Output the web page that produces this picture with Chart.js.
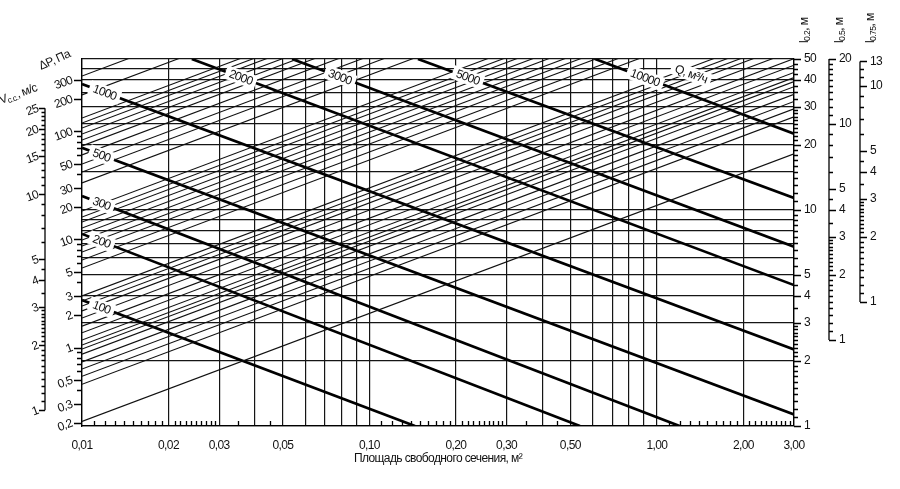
<!DOCTYPE html>
<html><head><meta charset="utf-8">
<script src="https://cdn.jsdelivr.net/npm/chart.js@4.4.1/dist/chart.umd.min.js"></script>
<style>html,body{margin:0;padding:0;background:#fff}canvas{display:block}</style>
</head><body>
<canvas id="c" width="900" height="489"></canvas>
<script>
// ===== DATA =====
// x axis: free section area, m2
const areaLabelValues = [0.01,0.02,0.03,0.05,0.1,0.2,0.3,0.5,1,2,3];
const areaLabelTexts  = ['0,01','0,02','0,03','0,05','0,10','0,20','0,30','0,50','1,00','2,00','3,00'];
const areaGrid = [0.01,0.02,0.03,0.04,0.05,0.06,0.07,0.08,0.09,0.1,0.2,0.3,0.4,0.5,0.6,0.7,0.8,0.9,1,2,3];
const areaMinor = [0.011,0.012,0.013,0.014,0.015,0.016,0.017,0.018,0.019,
  0.021,0.022,0.023,0.024,0.025,0.026,0.027,0.028,0.029,0.035,0.045,
  0.11,0.12,0.13,0.14,0.15,0.16,0.17,0.18,0.19,
  0.21,0.22,0.23,0.24,0.25,0.26,0.27,0.28,0.29,0.35,0.45,
  1.1,1.2,1.3,1.4,1.5,1.6,1.7,1.8,1.9,2.1,2.2,2.3,2.4,2.5,2.6,2.7,2.8,2.9];

// right axis l0.2 (main y)
const l02Labels = [1,2,3,4,5,10,20,30,40,50];
const l02Grid = [1,2,3,4,5,6,7,8,9,10,15,20,25,30,35,40,45,50];
const l02Minor = [1.1,1.2,1.3,1.4,1.5,1.6,1.7,1.8,1.9,2.1,2.2,2.3,2.4,2.5,2.6,2.7,2.8,2.9,
  3.5,4.5,5.5,6,6.5,7,7.5,8,8.5,9,9.5,11,12,13,14,15,16,17,18,19,
  21,22,23,24,25,26,27,28,29,32.5,35,37.5,42.5,45,47.5];
// l0.5 axis
const l05Labels = [1,2,3,4,5,10,20];
const l05Minor = [1.1,1.2,1.3,1.4,1.5,1.6,1.7,1.8,1.9,2.1,2.2,2.3,2.4,2.5,2.6,2.7,2.8,2.9,
  3.5,4.5,6,7,8,9,11,12,13,14,15,16,17,18,19];
// l0.75 axis
const l075Labels = [1,2,3,4,5,10,13];
const l075Minor = [1.1,1.2,1.3,1.4,1.5,1.6,1.7,1.8,1.9,2.1,2.2,2.3,2.4,2.5,2.6,2.7,2.8,2.9,
  3.5,4.5,6,7,8,9,11,12];
// left axis Vcc, m/s
const vccLabels = [1,2,3,4,5,10,15,20,25];
const vccMinor = [1.1,1.2,1.3,1.4,1.5,1.6,1.7,1.8,1.9,2.1,2.2,2.3,2.4,2.5,2.6,2.7,2.8,2.9,
  3.5,4.5,6,7,8,9,11,12,13,14,16,17,18,19,21,22,23,24];
// left axis dP, Pa
const dpLabels = [0.2,0.3,0.5,1,2,3,5,10,20,30,50,100,200,300];
const dpLabelTexts = ['0,2','0,3','0,5','1','2','3','5','10','20','30','50','100','200','300'];
const dpMinor = [0.4,0.6,0.7,0.8,0.9,4,6,7,8,9,40,60,70,80,90];

// thick lines: air flow Q, m3/h (endpoints in area / l0.2)
const qValues  = [100,200,300,500,1000,2000,3000,5000,10000];
const qStartA  = [0.01,0.01,0.01,0.01,0.01,0.0241,0.0538,0.1475,0.6095];
const qStartL  = [3.83,7.75,11.6,19.4,38.3,50,50,50,50];
const qEndA    = [0.144,0.54,1.2,3,3,3,3,3,3];
const qEndL    = [1,1,1,1.13,2.26,4.49,6.76,11.36,22.55];
const qLabelA  = [0.0117,0.0117,0.0117,0.0117,0.0120,0.0357,0.079,0.22,0.91];
const qLabelL  = [3.54,7.15,10.7,17.9,35.0,41.1,41.3,41.1,40.9];
const qUnitA = 1.315, qUnitL = 42.6;

// thin lines: l0.2 at area 0.01 (left) and at area 3.00 (right)
const thinStartL = [41.7,34.1,
  26.66,25.27,23.97,22.48,21.09,19.79,17.98,16.33,14.99,13.34,
  9.89,9.28,8.80,8.25,7.74,7.26,6.81,6.39,5.87,5.39,
  4.00,3.79,3.59,3.41,3.16,2.90,2.70,2.50,2.37,2.27,2.15,1.98,1.835,1.70,1.56,1.05];
const thinEndL = [722,590,
  461.8,437.7,415.2,389.4,365.3,342.8,311.4,282.8,259.6,231.1,
  171.3,160.7,152.4,142.9,134.1,125.7,118.0,110.7,101.7,93.4,
  69.3,65.6,62.2,59.1,54.7,50.2,46.8,43.3,41.0,39.3,37.2,34.3,31.8,29.4,27.0,18.2];

// ===== FONT =====
function hasFont(name){
  const c=document.createElement('canvas').getContext('2d');
  const t='Площадь 0,01 abcdefghij 12345';
  c.font='40px monospace'; const a=c.measureText(t).width;
  c.font='40px "'+name+'", monospace'; const b=c.measureText(t).width;
  c.font='40px serif'; const a2=c.measureText(t).width;
  c.font='40px "'+name+'", serif'; const b2=c.measureText(t).width;
  return a!==b || a2!==b2;
}
let FAMILY='"Liberation Sans", Arial, sans-serif', FS=12, LS='-0.6px';
if (hasFont('Liberation Sans Narrow')) { FAMILY='"Liberation Sans Narrow"'; FS=12.5; LS='0px'; }
else if (hasFont('Arial Narrow')) { FAMILY='"Arial Narrow"'; FS=12.5; LS='0px'; }
const font = {family: FAMILY, size: FS};
const TXT = '#111', GRID = '#151515';

const near = (v,m) => Math.abs(v-m) <= 1e-9*Math.max(1,Math.abs(m));
const labelOf = (v, vals, texts) => { const i = vals.findIndex(m => near(v,m)); return i>=0 ? texts[i] : ''; };
const toTicks = arr => arr.map(v => ({value: v}));

// ===== DATASETS =====
const datasets = [];
thinStartL.forEach((l,i) => datasets.push({
  data: [{x:0.01, y:l},{x:3, y:thinEndL[i]}],
  showLine:true, borderColor:'#111', borderWidth:1.1, pointRadius:0, yAxisID:'y'
}));
qValues.forEach((q,i) => datasets.push({
  data: [{x:qStartA[i], y:qStartL[i]},{x:qEndA[i], y:qEndL[i]}],
  showLine:true, borderColor:'#000', borderWidth:2.7, pointRadius:0, yAxisID:'y'
}));

// ===== PLUGIN (ticks, partial spines, line labels, titles) =====
const nomo = {
  id:'nomo',
  beforeDraw(chart){ const c=chart.ctx; c.fillStyle='#fff'; c.fillRect(0,0,chart.width,chart.height); try{ c.letterSpacing=LS; }catch(e){} },
  afterDraw(chart){
    const c=chart.ctx, s=chart.scales, ca=chart.chartArea;
    c.save();
    c.strokeStyle='#000'; c.lineWidth=1.3; c.lineCap='butt';
    const py=(sc,v)=>Math.round(sc.getPixelForValue(v))+0.5;
    function spine(x, y1, y2){ c.beginPath(); c.moveTo(x,y1); c.lineTo(x,y2); c.stroke(); }
    function ticks(sc, majors, minors, side, lM, lm){
      const x0 = side==='left' ? sc.right : sc.left;
      const d = side==='left' ? -1 : 1;
      c.beginPath();
      majors.forEach(v=>{ const y=py(sc,v); c.moveTo(x0,y); c.lineTo(x0+d*lM,y); });
      minors.forEach(v=>{ const y=py(sc,v); c.moveTo(x0,y); c.lineTo(x0+d*lm,y); });
      c.stroke();
    }
    spine(s.vcc.right, s.vcc.getPixelForValue(1), s.vcc.getPixelForValue(25));
    spine(s.l05.left, s.l05.getPixelForValue(1), s.l05.getPixelForValue(20));
    spine(s.l075.left, s.l075.getPixelForValue(1), s.l075.getPixelForValue(13));
    ticks(s.vcc, vccLabels, vccMinor, 'left', 6, 3.5);
    ticks(s.dp, dpLabels, dpMinor, 'left', 8, 5);
    ticks(s.y, l02Labels, l02Minor, 'right', 7, 4);
    ticks(s.l05, l05Labels, l05Minor, 'right', 7, 4);
    ticks(s.l075, l075Labels, l075Minor, 'right', 7, 4);
    // inward minor ticks on area axis
    c.beginPath();
    areaMinor.forEach(v=>{ const x=Math.round(s.x.getPixelForValue(v))+0.5; c.moveTo(x,ca.bottom); c.lineTo(x,ca.bottom-5); });
    c.stroke();

    // flow labels on thick lines
    c.font = FS+'px '+FAMILY; c.textAlign='center'; c.textBaseline='middle';
    const angOf = i => Math.atan2(s.y.getPixelForValue(qEndL[i])-s.y.getPixelForValue(qStartL[i]),
                                   s.x.getPixelForValue(qEndA[i])-s.x.getPixelForValue(qStartA[i]));
    function tag(t, a, l, ang){
      const x=s.x.getPixelForValue(a), y=s.y.getPixelForValue(l);
      c.save(); c.translate(x,y); c.rotate(ang);
      const w=c.measureText(t).width;
      c.fillStyle='#fff'; c.fillRect(-w/2-4,-7,w+8,14);
      c.fillStyle=TXT; c.fillText(t,0,0.5);
      c.restore();
    }
    qValues.forEach((q,i)=>tag(String(q), qLabelA[i], qLabelL[i], angOf(i)));
    tag('Q, м³/ч', qUnitA, qUnitL, angOf(8));

    // axis titles
    c.fillStyle=TXT; c.textAlign='left'; c.textBaseline='alphabetic';
    function rich(parts){ let x=0; parts.forEach(p=>{ c.font=p[1]+'px '+FAMILY; c.fillText(p[0],x,p[2]); x+=c.measureText(p[0]).width; }); }
    c.save(); c.translate(ca.left-41, ca.top+11); c.rotate(-24*Math.PI/180);
    rich([['ΔP, Па',FS,0]]); c.restore();
    c.save(); c.translate(1, 104); c.rotate(-20*Math.PI/180);
    rich([['V',FS,0],['с.с.',FS*0.7,2],[', м/с',FS,0]]); c.restore();
    [[s.y,'0.2'],[s.l05,'0.5'],[s.l075,'0.75']].forEach(([sc,sub])=>{
      c.save(); c.translate(sc.left+14, 43); c.rotate(-Math.PI/2);
      rich([['l',FS,0],[sub,FS*0.72,2],[', м',FS,0]]); c.restore();
    });
    c.restore();
  }
};

// ===== CHART =====
const sideY = (o) => Object.assign({
  axis:'y', type:'logarithmic',
  grid:{display:true, drawOnChartArea:false, drawTicks:false},
  border:{display:false},
}, o);

new Chart(document.getElementById('c'), {
  type:'scatter',
  data:{datasets},
  options:{
    responsive:false, animation:false, devicePixelRatio:1, events:[],
    layout:{padding:{left:0,right:0,top:59,bottom:0}},
    plugins:{legend:{display:false}, tooltip:{enabled:false}},
    scales:{
      x:{
        type:'logarithmic', position:'bottom', min:0.01, max:3,
        afterBuildTicks:sc=>{ sc.ticks=toTicks(areaGrid); },
        afterFit:sc=>{ sc.height=63; },
        ticks:{autoSkip:false, maxRotation:0, minRotation:0, padding:12, font, color:TXT,
          callback:v=>labelOf(v, areaLabelValues, areaLabelTexts)},
        grid:{drawTicks:false, color:GRID, lineWidth:1.2},
        border:{display:true, color:'#000', width:1.3},
        title:{display:true, text:'Площадь свободного сечения, м²', font, color:TXT, padding:{top:0,bottom:23}}
      },
      y:{
        type:'logarithmic', position:'right', weight:0, min:1, max:50,
        afterBuildTicks:sc=>{ sc.ticks=toTicks(l02Grid); },
        afterFit:sc=>{ sc.width=35; },
        ticks:{autoSkip:false, padding:10, font, color:TXT,
          callback:v=>labelOf(v, l02Labels, l02Labels.map(String))},
        grid:{drawTicks:false, color:GRID, lineWidth:1.2},
        border:{display:true, color:'#000', width:1.3}
      },
      l05: sideY({position:'right', weight:1, min:0.4, max:20,
        afterBuildTicks:sc=>{ sc.ticks=toTicks(l05Labels); },
        afterFit:sc=>{ sc.width=31; },
        ticks:{autoSkip:false, padding:10, font, color:TXT, callback:v=>labelOf(v,l05Labels,l05Labels.map(String))}}),
      l075: sideY({position:'right', weight:2, min:0.266667, max:13.33333,
        afterBuildTicks:sc=>{ sc.ticks=toTicks(l075Labels); },
        afterFit:sc=>{ sc.width=40; },
        ticks:{autoSkip:false, padding:10, font, color:TXT, callback:v=>labelOf(v,l075Labels,l075Labels.map(String))}}),
      dp: sideY({position:'left', weight:0, min:0.1876, max:469,
        afterBuildTicks:sc=>{ sc.ticks=toTicks(dpLabels); },
        afterFit:sc=>{ sc.width=37; },
        border:{display:true, color:'#000', width:1.3},
        ticks:{autoSkip:false, padding:10, minRotation:20, maxRotation:20, font, color:TXT,
          callback:v=>labelOf(v,dpLabels,dpLabelTexts)}}),
      vcc: sideY({position:'left', weight:1, min:0.845, max:42.25,
        afterBuildTicks:sc=>{ sc.ticks=toTicks(vccLabels); },
        afterFit:sc=>{ sc.width=45; },
        ticks:{autoSkip:false, padding:7, minRotation:20, maxRotation:20, font, color:TXT,
          callback:v=>labelOf(v,vccLabels,vccLabels.map(String))}})
    }
  },
  plugins:[nomo]
});
</script>
</body></html>
